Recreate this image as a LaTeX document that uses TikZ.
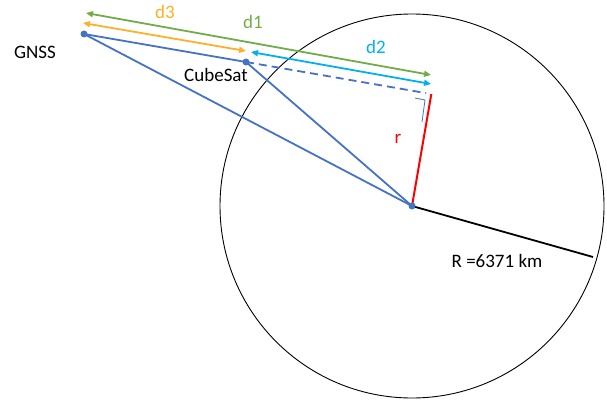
\documentclass[tikz,border=0pt]{standalone}
\usepackage{fontspec}
\setmainfont{Carlito}
\usetikzlibrary{arrows.meta,calc}
\definecolor{linkblue}{RGB}{68,114,196}
\definecolor{dgreen}{RGB}{112,173,71}
\definecolor{dorange}{RGB}{255,176,40}
\definecolor{dcyan}{RGB}{0,176,240}
\definecolor{rred}{RGB}{255,0,0}
\begin{document}
\begin{tikzpicture}[
    x=1pt, y=-1pt,
    every node/.style={font=\fontsize{19}{22}\selectfont},
    dot/.style={circle, fill=linkblue, inner sep=0pt, minimum size=7pt},
    link/.style={linkblue, line width=1.8pt},
    dist/.style={{Triangle[length=7pt,width=6pt]}-{Triangle[length=7pt,width=6pt]}, line width=1.8pt}
  ]
  \useasboundingbox (0,0) rectangle (607,401);
  % earth
  \coordinate (c) at (412,206);
  \draw[line width=0.9pt] (c) circle[radius=192];
  \coordinate (rim) at (593,257);
  \draw[line width=1.8pt] (c) -- (rim);
  \node (R) at (497,261) {R =6371 km};
  % satellites
  \node[dot] (gnss) at (84,34) {};
  \node[dot] (sat) at (246,62) {};
  \node (gnsslabel) at (35,52) {GNSS};
  \node (satlabel) at (216,75) {CubeSat};
  \coordinate (foot) at ($(gnss)!(c)!(sat)$);
  \draw[link] (gnss.center) -- (sat.center);
  \draw[link] (gnss.center) -- (c);
  \draw[link] (sat.center) -- (c);
  \draw[link, dash pattern=on 8pt off 5pt] (sat.center) -- ($(gnss)!0.985!(foot)$);
  \draw[rred, line width=2pt] (c) -- (foot);
  \node[text=rred] (r) at (398,139) {r};
  % right angle
  \draw[linkblue, line width=0.8pt] (415,98) -- (425,100) -- (422,122);
  % distances
  \coordinate (d1a) at (86,13);
  \coordinate (d1b) at (431,75);
  \coordinate (d3a) at (83,23);
  \coordinate (d3b) at (246,51);
  \coordinate (d2a) at (251,52);
  \coordinate (d2b) at (431,84);
  \draw[dist, dgreen] (d1a) -- (d1b);
  \draw[dist, dorange] (d3a) -- (d3b);
  \draw[dist, dcyan] (d2a) -- (d2b);
  \node[text=dorange] (d3) at (165,12) {d3};
  \node[text=dgreen] (d1) at (253,22) {d1};
  \node[text=dcyan] (d2) at (376,47) {d2};
  \node[dot] (core) at (c) {};
\end{tikzpicture}
\end{document}
